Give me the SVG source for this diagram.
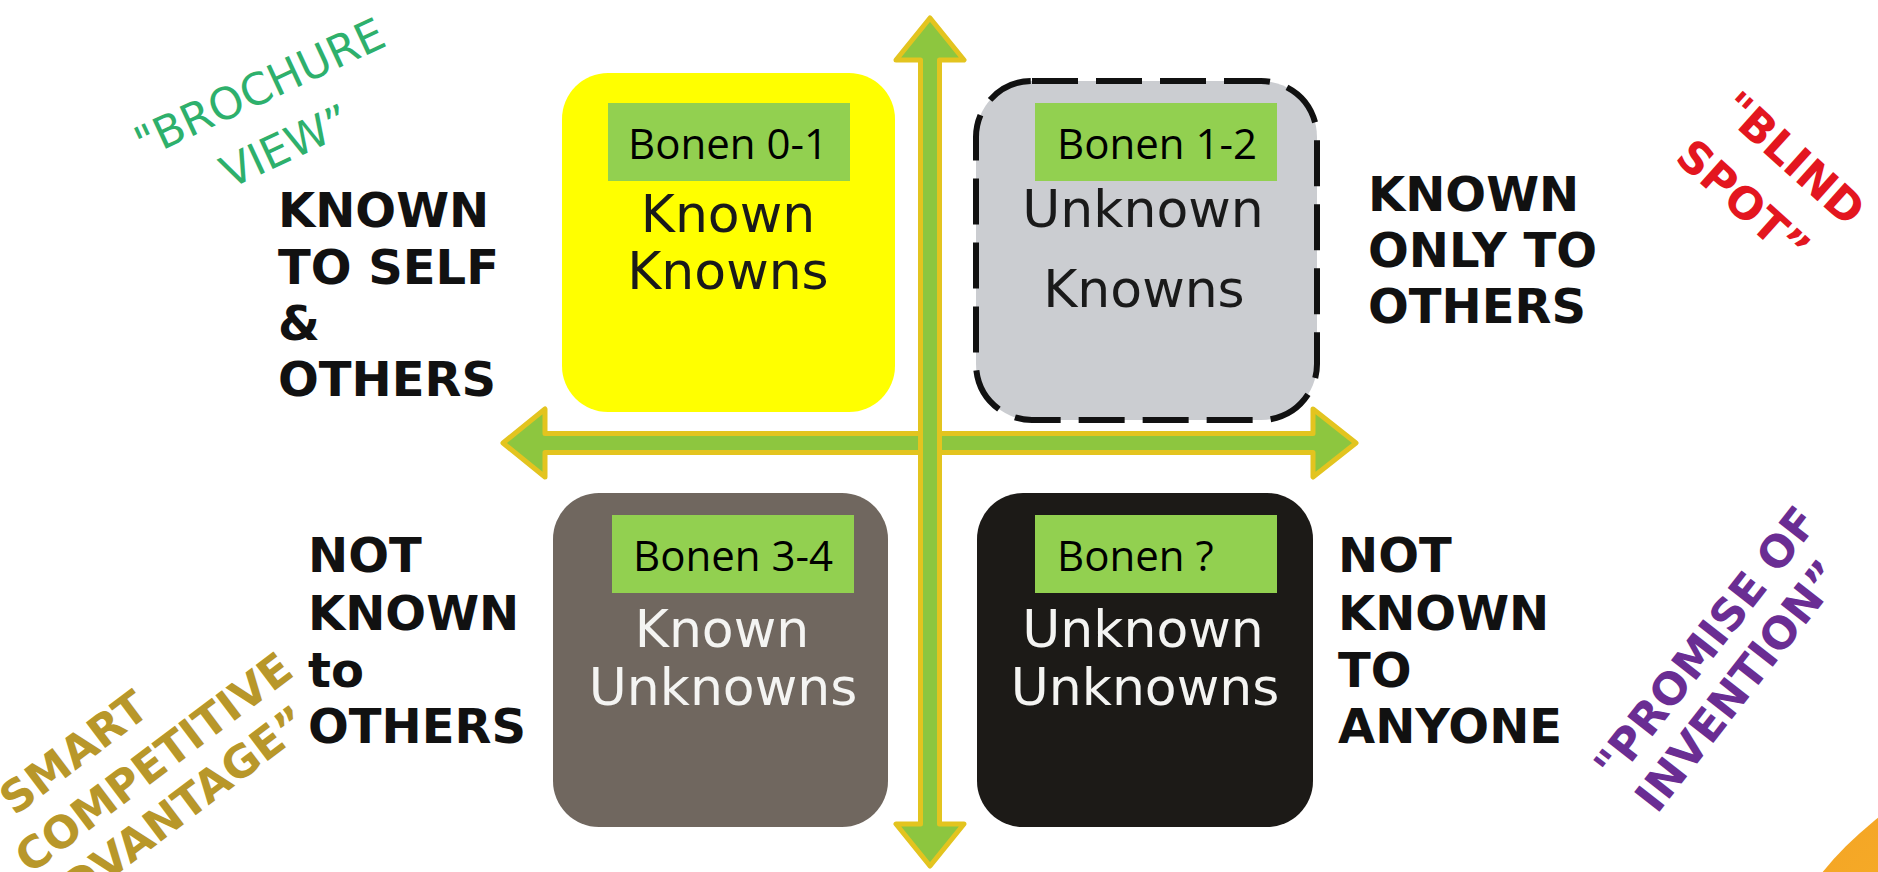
<svg xmlns="http://www.w3.org/2000/svg" width="1878" height="872" viewBox="0 0 1878 872">
  <defs>
    <radialGradient id="orangeGlow" cx="0.3" cy="0.3" r="0.8">
      <stop offset="0" stop-color="#F7B02A"/>
      <stop offset="1" stop-color="#EE8E1A"/>
    </radialGradient>
  </defs>
  <style>
    .axis { fill: #8DC63F; stroke: #E3C41F; stroke-width: 5; stroke-linejoin: round; }
    .tag { fill: #92D050; }
    .tagtext { font-family: "Open Sans", "Liberation Sans", sans-serif; font-size: 42px; fill: #000; }
    .quad { font-family: "DejaVu Sans", Verdana, sans-serif; font-size: 52px; text-anchor: middle; }
    .side { font-family: "DejaVu Sans", Verdana, sans-serif; font-weight: bold; font-size: 48px; fill: #111; }
    .slogan { font-family: "DejaVu Sans", Verdana, sans-serif; font-size: 44px; }
    .bold { font-weight: bold; }
  </style>

  <rect width="1878" height="872" fill="#FFFFFF"/>

  <!-- orange disc peeking in at the lower right corner -->
  <circle cx="2095" cy="1095" r="352" fill="url(#orangeGlow)"/>

  <!-- the two axes -->
  <g id="connectors">
    <polygon class="axis" points="503,443 545,409 545,433.5 1313,433.5 1313,409 1356,443 1313,477 1313,452.5 545,452.5 545,477"/>
    <polygon class="axis" points="930,18 964,60 939.5,60 939.5,824 964,824 930,866 896,824 920.5,824 920.5,60 896,60"/>
  </g>

  <!-- upper left quadrant -->
  <g id="known-knowns">
    <rect x="562" y="73" width="333" height="339" rx="46" fill="#FFFF00"/>
    <rect class="tag" x="608" y="103" width="242" height="78"/>
    <text class="tagtext" x="628" y="159">Bonen 0-1</text>
    <text class="quad" x="728" y="232" fill="#1A1A1A">Known</text>
    <text class="quad" x="728" y="289" fill="#1A1A1A">Knowns</text>
  </g>

  <!-- upper right quadrant -->
  <g id="unknown-knowns">
    <rect x="976" y="81" width="341" height="339" rx="56" fill="#CBCDD1" stroke="#111" stroke-width="6" stroke-dasharray="46 18"/>
    <rect class="tag" x="1035" y="103" width="242" height="78"/>
    <text class="tagtext" x="1057" y="159">Bonen 1-2</text>
    <text class="quad" x="1143" y="227" fill="#1A1A1A">Unknown</text>
    <text class="quad" x="1144" y="307" fill="#1A1A1A">Knowns</text>
  </g>

  <!-- lower left quadrant -->
  <g id="known-unknowns">
    <rect x="553" y="493" width="335" height="334" rx="46" fill="#70675F"/>
    <rect class="tag" x="612" y="515" width="242" height="78"/>
    <text class="tagtext" x="633" y="571">Bonen 3-4</text>
    <text class="quad" x="722" y="647" fill="#F4F4F2">Known</text>
    <text class="quad" x="723" y="705" fill="#F4F4F2">Unknowns</text>
  </g>

  <!-- lower right quadrant -->
  <g id="unknown-unknowns">
    <rect x="977" y="493" width="336" height="334" rx="46" fill="#1C1A17"/>
    <rect class="tag" x="1035" y="515" width="242" height="78"/>
    <text class="tagtext" x="1057" y="571">Bonen ?</text>
    <text class="quad" x="1143" y="647" fill="#F4F4F2">Unknown</text>
    <text class="quad" x="1145" y="705" fill="#F4F4F2">Unknowns</text>
  </g>

  <!-- row and column captions -->
  <g id="label-known-self">
    <text class="side" x="278" y="227">KNOWN</text>
    <text class="side" x="278" y="284">TO SELF</text>
    <text class="side" x="278" y="340">&amp;</text>
    <text class="side" x="278" y="396">OTHERS</text>
  </g>
  <g id="label-known-others">
    <text class="side" x="1368" y="211">KNOWN</text>
    <text class="side" x="1368" y="267">ONLY TO</text>
    <text class="side" x="1368" y="323">OTHERS</text>
  </g>
  <g id="label-not-known-others">
    <text class="side" x="308" y="572">NOT</text>
    <text class="side" x="308" y="630">KNOWN</text>
    <text class="side" x="308" y="687">to</text>
    <text class="side" x="308" y="743">OTHERS</text>
  </g>
  <g id="label-not-known-anyone">
    <text class="side" x="1338" y="572">NOT</text>
    <text class="side" x="1338" y="630">KNOWN</text>
    <text class="side" x="1338" y="687">TO</text>
    <text class="side" x="1338" y="743">ANYONE</text>
  </g>

  <!-- slanted slogans in the corners -->
  <g id="slogan-brochure" class="slogan" fill="#2EB06C" text-anchor="middle" font-size="47">
    <text transform="translate(266,102) rotate(-25)">"BROCHURE</text>
    <text transform="translate(292,160) rotate(-25)">VIEW”</text>
  </g>
  <g id="slogan-blind-spot" class="slogan bold" fill="#E3161F" text-anchor="middle" font-size="47">
    <text transform="translate(1783,170) rotate(42)">"BLIND</text>
    <text transform="translate(1733,213) rotate(42)">SPOT”</text>
  </g>
  <g id="slogan-smart" class="slogan bold" fill="#B8972A" transform="translate(30,875) rotate(-37)">
    <text x="0" y="-56">"SMART</text>
    <text x="0" y="0">COMPETITIVE</text>
    <text x="-15" y="52">ADVANTAGE”</text>
  </g>
  <g id="slogan-promise" class="slogan bold" fill="#6A2D93" transform="translate(1616,783) rotate(-52)">
    <text x="0" y="0">"PROMISE OF</text>
    <text x="0" y="52">INVENTION”</text>
  </g>
</svg>
